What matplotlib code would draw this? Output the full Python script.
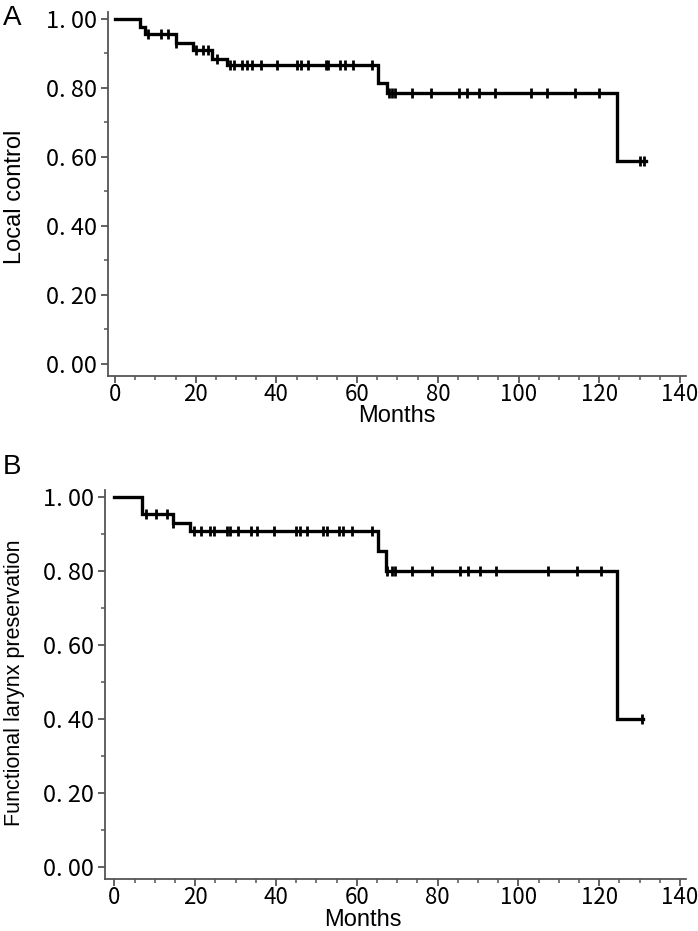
import numpy as np
import matplotlib
matplotlib.use("Agg")
import matplotlib.pyplot as plt
from matplotlib.ticker import MultipleLocator, FuncFormatter

# Panel A: local control (Kaplan-Meier steps)
a_step_t = [0, 6.3, 7.4, 15.0, 19.4, 24.0, 27.7, 65.3, 67.3, 124.3]
a_step_s = [1.0, 0.978, 0.957, 0.931, 0.910, 0.883, 0.867, 0.814, 0.785, 0.588]
a_end = 131.7
a_censor = [8.3, 11.5, 13.2, 15.0, 20.2, 21.9, 23.1, 25.2, 28.5, 29.4, 31.4,
            32.8, 34.0, 36.2, 40.2, 45.2, 46.0, 47.9, 52.2, 52.9, 55.7, 57.0,
            59.0, 63.8, 67.8, 68.7, 69.5, 73.5, 78.4, 85.3, 87.2, 90.3, 94.2,
            103.0, 107.1, 114.1, 119.9, 130.2, 131.2]

# Panel B: functional larynx preservation
b_step_t = [0, 6.9, 14.6, 18.7, 65.3, 67.2, 124.5]
b_step_s = [1.0, 0.955, 0.932, 0.909, 0.855, 0.800, 0.400]
b_end = 130.8
b_censor = [7.7, 10.4, 12.9, 14.6, 19.8, 21.3, 23.7, 24.6, 27.8, 28.6, 30.7,
            33.7, 35.4, 39.6, 45.0, 45.9, 47.7, 51.7, 52.6, 55.7, 56.6, 58.7,
            63.7, 67.5, 68.6, 69.4, 73.6, 78.6, 85.5, 87.5, 90.5, 94.5, 107.4,
            114.4, 120.4, 130.5]

x_ticks = [0, 20, 40, 60, 80, 100, 120, 140]
y_ticks = [0.0, 0.2, 0.4, 0.6, 0.8, 1.0]

TICK_FONT = ["Noto Sans CJK JP", "DejaVu Sans"]
LABEL_FONT = "Liberation Sans"
SPINE = "#555555"


def km_panel(ax, step_t, step_s, end, censor):
    t = list(step_t) + [end]
    s = list(step_s) + [step_s[-1]]
    ax.step(t, s, where="post", color="black", lw=2.4, solid_joinstyle="miter")
    idx = np.searchsorted(step_t, censor, side="right") - 1
    cs = np.array(step_s)[idx]
    ax.plot(censor, cs, ls="none", marker="|", ms=7, mew=2.0, color="black")

    ax.spines["top"].set_visible(False)
    ax.spines["right"].set_visible(False)
    for sp in ("left", "bottom"):
        ax.spines[sp].set_color(SPINE)
        ax.spines[sp].set_linewidth(1.3)

    ax.set_xticks(x_ticks)
    ax.set_yticks(y_ticks)
    ax.xaxis.set_minor_locator(MultipleLocator(5))
    ax.yaxis.set_minor_locator(MultipleLocator(0.1))
    ax.yaxis.set_major_formatter(FuncFormatter(lambda v, p: f"{v:.2f}".replace(".", ". ")))
    ax.tick_params(which="major", length=5, width=1.3, color=SPINE)
    ax.tick_params(axis="x", pad=0)
    ax.tick_params(axis="y", pad=3)
    ax.tick_params(which="minor", length=3, width=1.1, color=SPINE)
    for lab in ax.get_xticklabels():
        lab.set_family(TICK_FONT)
        lab.set_fontsize(16)
    for lab in ax.get_yticklabels():
        lab.set_family(TICK_FONT)
        lab.set_fontsize(17)


fig = plt.figure(figsize=(6.98, 9.31), dpi=100)

ax_a = fig.add_axes([108 / 698, 1 - 376 / 931, (686 - 108) / 698, (376 - 12) / 931])
km_panel(ax_a, a_step_t, a_step_s, a_end, a_censor)
ax_a.set_xlim(-1.73, 141.5)
ax_a.set_ylim(-0.035, 1.0203)

ax_b = fig.add_axes([105 / 698, 1 - 879 / 931, (686 - 105) / 698, (879 - 490) / 931])
km_panel(ax_b, b_step_t, b_step_s, b_end, b_censor)
ax_b.set_xlim(-2.35, 141.5)
ax_b.set_ylim(-0.033, 1.02)

# axis titles and panel letters, placed in figure pixels
def ftext(x, y, s, **kw):
    fig.text(x / 698, 1 - y / 931, s, family=LABEL_FONT, ha="center", va="center", **kw)

ftext(397, 416, "Months", fontsize=17)
ftext(363, 920, "Months", fontsize=17)
ftext(15, 197, "Local control", fontsize=17, rotation=90)
ftext(15, 683, "Functional larynx preservation", fontsize=15.5, rotation=90)
ftext(12, 18, "A", fontsize=20)
ftext(12, 467, "B", fontsize=20)

fig.savefig("out.png", dpi=100)
